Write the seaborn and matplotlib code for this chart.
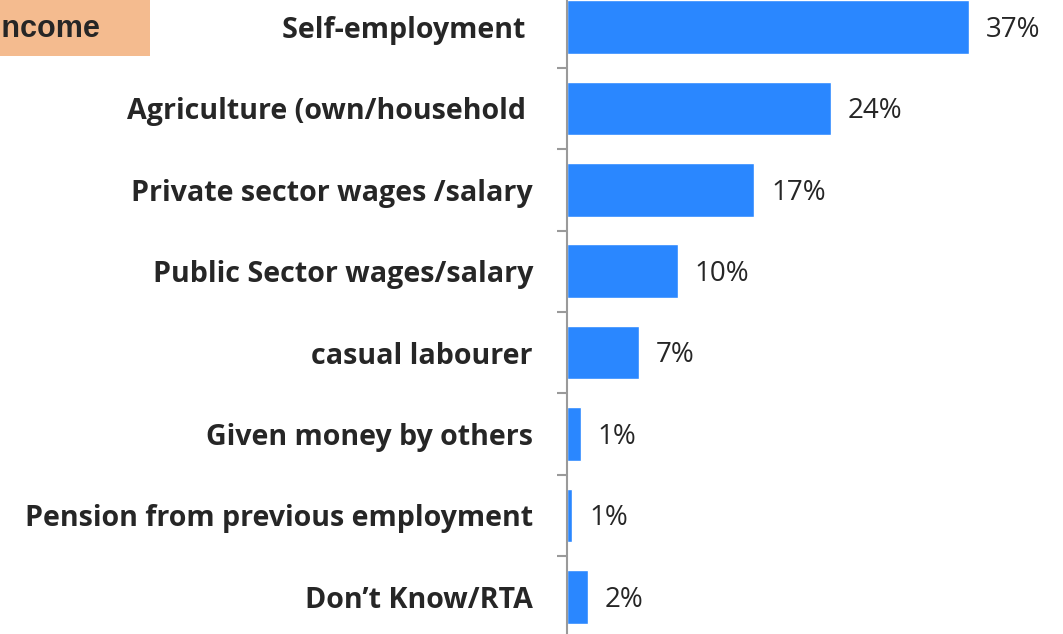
import matplotlib
matplotlib.use("Agg")
import matplotlib.pyplot as plt
import seaborn as sns
import pandas as pd
from matplotlib.patches import Rectangle

categories = ["Self-employment ", "Agriculture (own/household ", "Private sector wages /salary",
              "Public Sector wages/salary", "casual labourer", "Given money by others",
              "Pension from previous employment", "Don\u2019t Know/RTA"]
values = [36.9, 24.2, 17.2, 10.2, 6.6, 1.3, 0.5, 1.9]
value_labels = ["37%", "24%", "17%", "10%", "7%", "1%", "1%", "2%"]
title_text = "Income"

sns.set_theme(style="white")
plt.rcParams['font.family'] = ['Open Sans', 'DejaVu Sans']

W, H = 1063, 634
fig = plt.figure(figsize=(W / 100, H / 100), dpi=100)
axis_x = 567
ax = fig.add_axes([axis_x / W, 0, 1 - axis_x / W, 1])

df = pd.DataFrame({"cat": categories, "val": values})
sns.barplot(data=df, y="cat", x="val", orient="h", color="#2A87FF", saturation=1,
            width=0.66, ax=ax)

ax.set_xlabel("")
ax.set_ylabel("")
ax.set_xticks([])
for s in ["top", "right", "bottom"]:
    ax.spines[s].set_visible(False)
ax.spines["left"].set_color("#9a9a9a")
ax.spines["left"].set_linewidth(1.5)

ax.set_yticks(range(len(categories)))
ax.set_yticklabels(categories, fontsize=20.6, fontweight="bold", color="#262626")
ax.tick_params(axis="y", which="major", length=0, pad=24.5)
ax.set_yticks([i + 0.5 for i in range(-1, len(categories))], minor=True)
ax.tick_params(axis="y", which="minor", length=7, width=1.5, color="#9a9a9a", left=True)

ax.set_xlim(0, 45.5)
ax.set_ylim(7.457, -0.332)

for i, (v, lab) in enumerate(zip(values, value_labels)):
    ax.annotate(lab, xy=(v, i), xytext=(12, -2), textcoords="offset points",
                va="center", ha="left", fontsize=20, color="#262626")

fig.patches.append(Rectangle((0, 1 - 56 / H), 150 / W, 56 / H, transform=fig.transFigure,
                             facecolor="#F4BB8F", edgecolor="none", zorder=0))
fig.text(100 / W, 1 - 29 / H, title_text, ha="right", va="center", fontsize=22,
         fontweight="bold", color="#262626", family=["Liberation Sans", "DejaVu Sans"])

fig.savefig("out.png", dpi=100)
